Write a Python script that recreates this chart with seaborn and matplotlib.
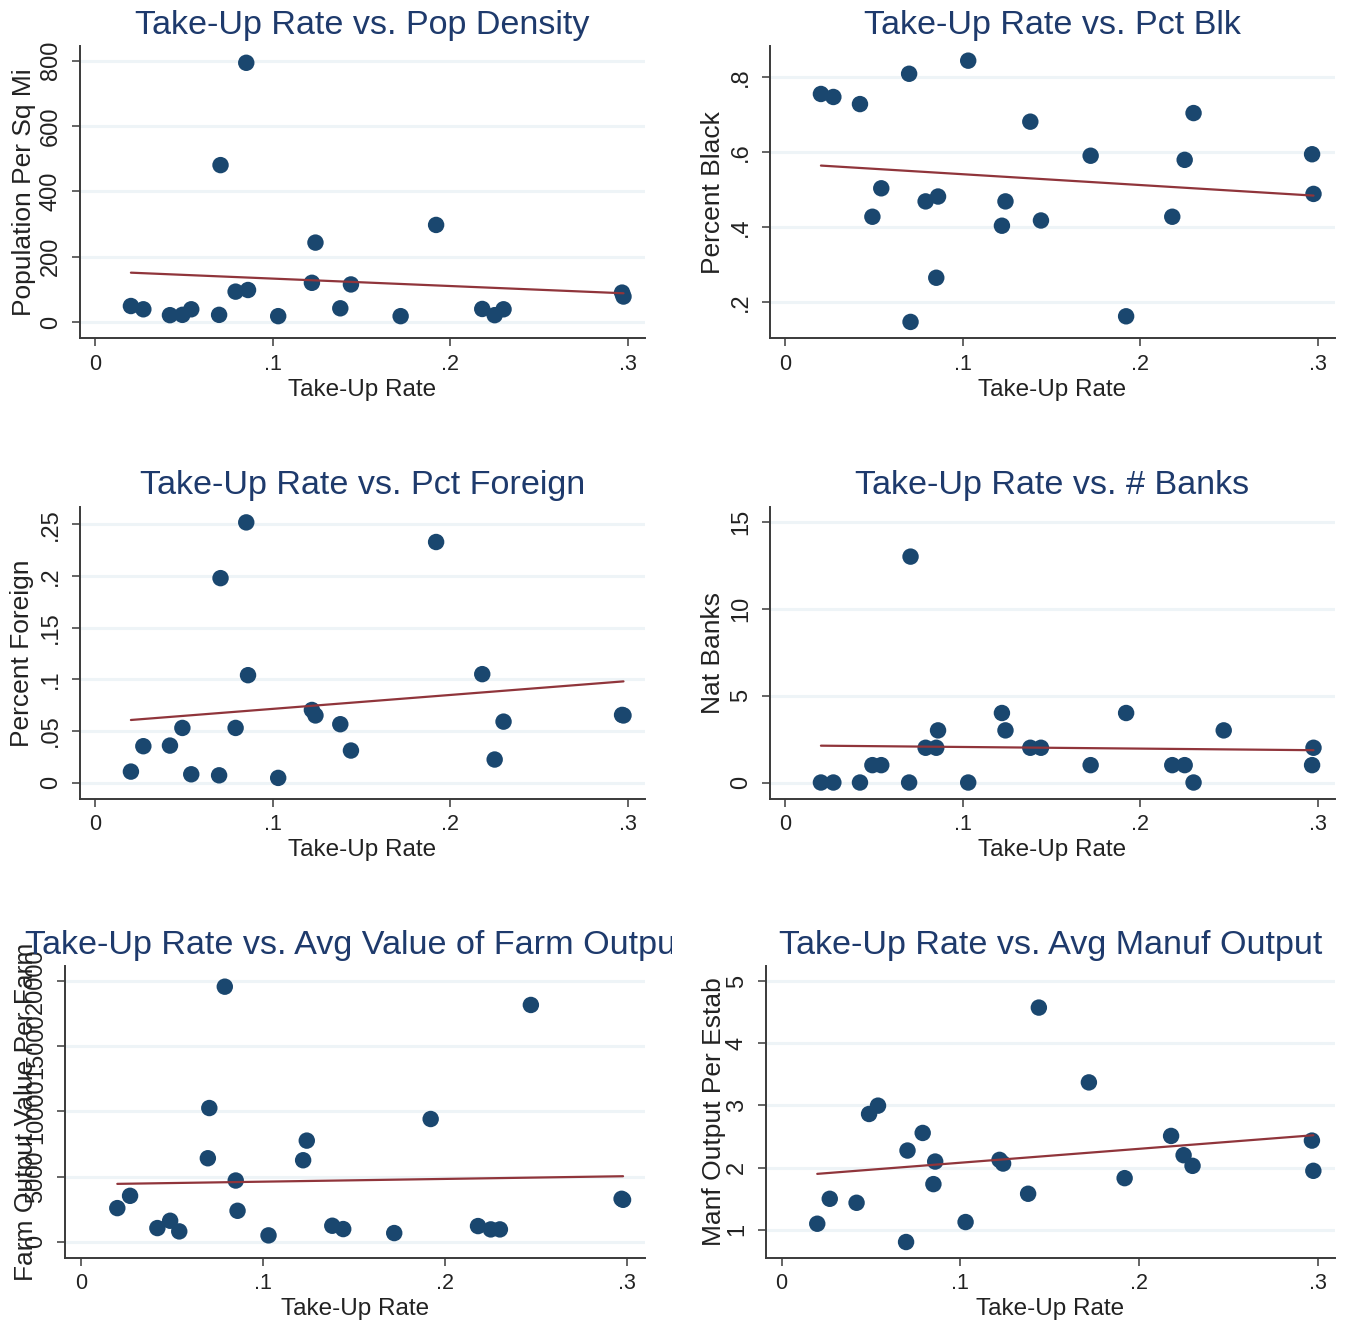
import numpy as np
import pandas as pd
import matplotlib
matplotlib.use("Agg")
import matplotlib.pyplot as plt
from matplotlib.transforms import Bbox, TransformedBbox
import seaborn as sns

# county take-up rates (shared x for every panel)
take_up = [0.020, 0.027, 0.042, 0.049, 0.054, 0.0697, 0.0705, 0.079, 0.085, 0.086,
           0.103, 0.122, 0.124, 0.138, 0.144, 0.172, 0.192, 0.218, 0.225, 0.230,
           0.247, 0.2968, 0.2976]

nan = np.nan
pop_density = [49, 39, 21, 22, 39, 22, 480, 93, 793, 98,
               18, 120, 243, 42, 115, 18, 297, 40, 21, 39,
               nan, 90, 78]
pct_black = [0.755, 0.747, 0.728, 0.427, 0.503, 0.809, 0.146, 0.468, 0.264, 0.481,
             0.844, 0.403, 0.468, 0.681, 0.417, 0.590, 0.161, 0.427, 0.579, 0.704,
             nan, 0.594, 0.488]
pct_foreign = [0.0106, 0.0352, 0.0358, 0.0529, 0.008, 0.007, 0.198, 0.0529, 0.252, 0.104,
               0.0045, 0.0703, 0.065, 0.0565, 0.031, nan, 0.233, 0.105, 0.0223, 0.059,
               nan, 0.0655, 0.065]
nat_banks = [0, 0, 0, 1, 1, 0, 13, 2, 2, 3,
             0, 4, 3, 2, 2, 1, 4, 1, 1, 0,
             3, 1, 2]
farm_value = [2577, 3520, 1046, 1607, 791, 6403, 10255, 19566, 4694, 2372,
              485, 6250, 7755, 1224, 969, 663, 9413, 1199, 944, 944,
              18163, 3291, 3214]
manuf_output = [1.096, 1.497, 1.433, 2.861, 2.995, 0.802, 2.273, 2.556, 1.733, 2.096,
                1.123, 2.123, 2.064, 1.578, 4.572, 3.369, 1.829, 2.508, 2.198, 2.027,
                nan, 2.433, 1.947]

# fitted-line values at the lowest and highest take-up rate
fit_left = [151, 0.5637, 0.0606, 2.12, 4437, 1.898]
fit_right = [88, 0.4835, 0.098, 1.86, 5023, 2.519]

x_ticks = [0, 0.1, 0.2, 0.3]
x_ticklabels = ['0', '.1', '.2', '.3']

panels = [
    # title, ylabel, values, yticks, yticklabels, ylim, axes rect, ylabel x
    ("Take-Up Rate vs. Pop Density", "Population Per Sq Mi", pop_density,
     [0, 200, 400, 600, 800], ['0', '200', '400', '600', '800'], (-50, 843),
     [0.0593, 0.745, 0.4188, 0.22], -0.099),
    ("Take-Up Rate vs. Pct Blk", "Percent Black", pct_black,
     [0.2, 0.4, 0.6, 0.8], ['.2', '.4', '.6', '.8'], (0.102, 0.882),
     [0.5708, 0.745, 0.4188, 0.22], -0.101),
    ("Take-Up Rate vs. Pct Foreign", "Percent Foreign", pct_foreign,
     [0, 0.05, 0.1, 0.15, 0.2, 0.25], ['0', '.05', '.1', '.15', '.2', '.25'], (-0.0158, 0.267),
     [0.0593, 0.398, 0.4188, 0.22], -0.102),
    ("Take-Up Rate vs. # Banks", "Nat Banks", nat_banks,
     [0, 5, 10, 15], ['0', '5', '10', '15'], (-0.94, 15.86),
     [0.5708, 0.398, 0.4188, 0.22], -0.101),
    ("Take-Up Rate vs. Avg Value of Farm Output", "Farm Output Value Per Farm", farm_value,
     [0, 5000, 10000, 15000, 20000], ['0', '5000', '10000', '15000', '20000'], (-1250, 21148),
     [0.0482, 0.052, 0.43, 0.22], -0.068),
    ("Take-Up Rate vs. Avg Manuf Output", "Manf Output Per Estab", manuf_output,
     [1, 2, 3, 4, 5], ['1', '2', '3', '4', '5'], (0.545, 5.24),
     [0.5678, 0.052, 0.4218, 0.22], -0.092),
]

sns.set_style("white")
plt.rcParams['font.family'] = ['Liberation Sans', 'DejaVu Sans']

navy = '#1a476f'
maroon = '#90353b'
axis_col = '#3a3a3a'

fig = plt.figure(figsize=(13.49, 13.27), dpi=100)

for i, (title, ylabel, values, yt, ytl, ylim, rect, ylab_x) in enumerate(panels):
    ax = fig.add_axes(rect)
    df = pd.DataFrame({'take_up': take_up, 'value': values}).dropna()
    sns.scatterplot(data=df, x='take_up', y='value', ax=ax, s=140, color=navy,
                    edgecolor='none', zorder=3)
    fit = pd.DataFrame({'take_up': [df['take_up'].min(), df['take_up'].max()],
                        'value': [fit_left[i], fit_right[i]]})
    sns.lineplot(data=fit, x='take_up', y='value', ax=ax, color=maroon,
                 linewidth=1.6, zorder=4)

    ax.set_xlim(-0.0087, 0.3097)
    ax.set_ylim(*ylim)
    ax.set_xticks(x_ticks, x_ticklabels)
    ax.set_yticks(yt, ytl)
    ax.grid(axis='y', color='#eef4f7', linewidth=2.2)
    ax.grid(axis='x', visible=False)
    ax.set_axisbelow(True)

    for side in ['top', 'right']:
        ax.spines[side].set_visible(False)
    for side in ['left', 'bottom']:
        ax.spines[side].set_color(axis_col)
        ax.spines[side].set_linewidth(1.4)

    ax.tick_params(axis='both', direction='out', length=6, width=1.1, color=axis_col,
                   labelsize=15.5, labelcolor='#222222', pad=5, left=True, bottom=True)
    ax.tick_params(axis='y', labelrotation=90, pad=7)
    for lab in ax.get_yticklabels():
        lab.set_va('center')
        lab.set_fontsize(17)

    ax.set_xlabel('Take-Up Rate', fontsize=17.5, color='#222222', labelpad=3)
    ax.set_ylabel(ylabel, fontsize=19, color='#222222', va='center')
    ax.yaxis.set_label_coords(ylab_x, 0.5)

    t = ax.set_title(title, fontsize=24.6, color='#1e3a6c', pad=9)
    if 'Farm' in title:
        # long title runs past the panel and gets cut off
        clip = TransformedBbox(Bbox([[0, 0], [0.498, 1]]), fig.transFigure)
        t.set_clip_box(clip)
        t.set_clip_on(True)

fig.savefig('out.png', dpi=100)
